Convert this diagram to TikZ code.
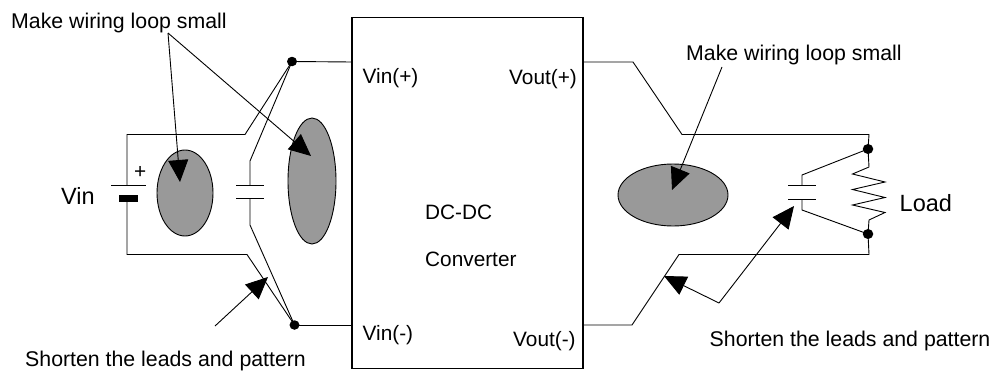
\documentclass[tikz,border=0pt]{standalone}
\usepackage{fontspec}
\setmainfont{Liberation Sans}
\usetikzlibrary{arrows.meta,shapes.geometric}
\definecolor{loopgray}{HTML}{999999}
\tikzset{
  wire/.style={draw=black,line width=0.9pt,line join=miter},
  callout/.style={draw=black,line width=0.9pt,-{Triangle[length=22pt,width=20pt]}},
  loopshade/.style={ellipse,draw=black,line width=0.9pt,fill=loopgray,inner sep=0pt},
  dot/.style={ellipse,fill=black,inner sep=0pt,minimum width=10pt,minimum height=9.5pt},
  note/.style={anchor=base west,inner sep=0pt,font=\fontsize{21.3}{24}\selectfont},
  lab/.style={anchor=base west,inner sep=0pt,font=\fontsize{20.8}{24}\selectfont},
  big/.style={anchor=base west,inner sep=0pt,font=\fontsize{23.5}{26}\selectfont},
}
\begin{document}
\begin{tikzpicture}[x=1pt,y=-1pt]
\useasboundingbox (0,0) rectangle (992,372);
\fill[white] (0,0) rectangle (992,372);
\node[draw=black,line width=1.3pt,minimum width=231pt,minimum height=351pt,inner sep=0pt] (conv) at (467.5,193) {};
\node[loopshade,minimum width=56pt,minimum height=86pt] (e1) at (185,193) {};
\node[loopshade,minimum width=48pt,minimum height=126pt] (e2) at (312,181) {};
\node[loopshade,minimum width=110pt,minimum height=62pt] (e3) at (673,195) {};
\node[dot] (dTL) at (292,61.5) {};
\node[dot] (dBL) at (294.5,325) {};
\node[dot,minimum width=10.5pt,minimum height=10pt] (dTR) at (868,149) {};
\node[dot,minimum width=10.5pt,minimum height=10pt] (dBR) at (868,234) {};
\coordinate (pinTL) at (352,62);
\coordinate (pinBL) at (352,325);
\coordinate (pinTR) at (583,62);
\coordinate (pinBR) at (583,325);
\coordinate (batT) at (127,185);
\coordinate (batB) at (127,201);
\coordinate (capLT) at (250,185);
\coordinate (capLB) at (250,198);
\coordinate (capRT) at (802,185);
\coordinate (capRB) at (802,199);
\draw[wire] (dTL.center) -- (pinTL);
\draw[wire] (dBL.center) -- (pinBL);
\draw[wire] (dTL.center) -- (245,134.5) -- (127,134.5) -- (batT);
\draw[wire] (batB) -- (127,254.5) -- (247,254.5) -- (dBL.center);
\draw[wire] (dTL.center) -- (250,161) -- (capLT);
\draw[wire] (capLB) -- (250,225) -- (dBL.center);
\draw[wire] (111,185) -- (146,185);
\fill[black] (119,195) rectangle (138,201.5);
\draw[wire,line width=1pt] (236,185) -- (264,185);
\draw[wire,line width=1pt] (236,198.5) -- (264,198.5);
\draw[wire] (pinTR) -- (633,62) -- (682,134.5) -- (869,134.5) -- (dTR.center);
\draw[wire] (pinBR) -- (632,325) -- (679,254.5) -- (869,254.5) -- (dBR.center);
\draw[wire] (dTR.center) -- (869,167) -- (852.5,174) -- (885,182) -- (852.5,189.5) -- (885,197.5) -- (852.5,205) -- (885,212.5) -- (869,220) -- (dBR.center);
\draw[wire] (dTR.center) -- (802,175) -- (capRT);
\draw[wire] (capRB) -- (802,210) -- (dBR.center);
\draw[wire,line width=1pt] (788,185) -- (816,185);
\draw[wire,line width=1pt] (788,199) -- (816,199);
\coordinate (mw1) at (168,33);
\coordinate (mw2) at (722,67);
\coordinate (sl1) at (215,326);
\coordinate (sr1) at (719,303);
\draw[callout] (mw1) -- (180,182);
\draw[callout] (mw1) -- (311,156);
\draw[callout] (mw2) -- (672,190);
\draw[callout] (sl1) -- (268,277);
\draw[callout] (sr1) -- (664,276);
\draw[callout] (sr1) -- (794,206);
\node[note] (t1) at (11,28) {Make wiring loop small};
\node[note] (t2) at (686,60.5) {Make wiring loop small};
\node[note] (t3) at (25,366) {Shorten the leads and pattern};
\node[note] (t4) at (709.5,346) {Shorten the leads and pattern};
\node[big] (t5) at (61,204) {Vin};
\node[big] (t6) at (899.5,211.5) {Load};
\node[lab] (t7) at (134,178) {+};
\node[lab] (t8) at (362.5,83) {Vin(+)};
\node[lab] (t9) at (362.5,340) {Vin(-)};
\node[lab] (t10) at (509,84) {Vout(+)};
\node[lab] (t11) at (513,346.5) {Vout(-)};
\node[lab] (t12) at (425,219) {DC-DC};
\node[lab] (t13) at (425,266) {Converter};
\end{tikzpicture}
\end{document}
